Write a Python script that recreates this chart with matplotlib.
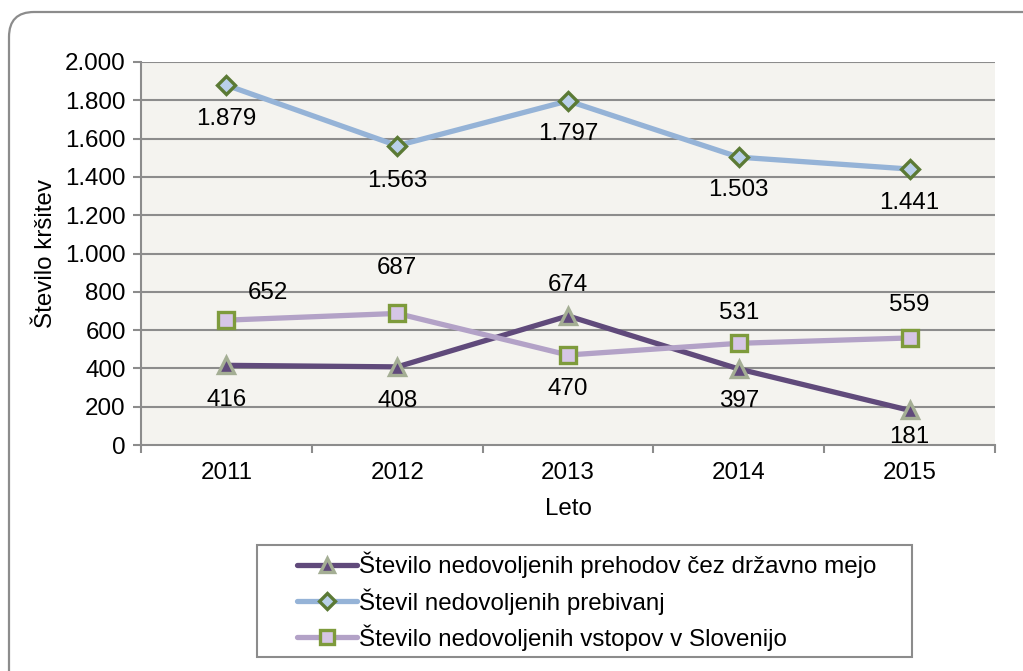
import matplotlib
matplotlib.use("Agg")
import matplotlib.pyplot as plt
from matplotlib.patches import FancyBboxPatch, Rectangle
from matplotlib.lines import Line2D

plt.rcParams['font.family'] = ['Liberation Sans', 'DejaVu Sans']
FS = 17.4

### DATA
years = ["2011", "2012", "2013", "2014", "2015"]
prehodi = [416, 408, 674, 397, 181]
prebivanja = [1879, 1563, 1797, 1503, 1441]
vstopi = [652, 687, 470, 531, 559]

names = ["Število nedovoljenih prehodov čez državno mejo",
         "Števil nedovoljenih prebivanj",
         "Število nedovoljenih vstopov v Slovenijo"]

# label offsets (pixels, x / y up)
off_prehodi = [(0, -35), (0, -34), (0, 31), (0, -32), (0, -27)]
off_prebivanja = [(0, -34), (0, -35), (0, -33), (0, -33), (0, -34)]
off_vstopi = [(42, 27), (0, 45), (0, -34), (0, 30), (0, 33)]

fig = plt.figure(figsize=(10.23, 6.71), dpi=100)
ax = fig.add_axes([141/1023, 1-445/671, (995-141)/1023, (445-62)/671])
ax.set_facecolor("#f4f3ef")

x = list(range(len(years)))

# outer rounded frame
frame = FancyBboxPatch((0.34, 0.0), 10.0, 6.34,
                       boxstyle="round,pad=0.25", transform=fig.dpi_scale_trans,
                       fc="none", ec="#8c8c8c", lw=1.6, clip_on=False)
fig.patches.append(frame)

for v in range(200, 2001, 200):
    ax.axhline(v, color="#8c8c8c", lw=1.5, zorder=1)

series = [
    (prehodi, "#604a7b", "^", "#604a7b", "#a4ae94", off_prehodi, 11.5),
    (prebivanja, "#95b3d7", "D", "#b9d0ea", "#5b7a35", off_prebivanja, 9.5),
    (vstopi, "#b3a2c7", "s", "#d6c6e6", "#7e9b3c", off_vstopi, 11),
]
handles = []
for (vals, col, mk, mfc, mec, offs, ms), nm in zip(series, names):
    ax.plot(x, vals, color=col, lw=3.8, zorder=3, solid_capstyle="round")
    ax.plot(x, vals, ls="none", marker=mk, ms=ms,
            mfc=mfc, mec=mec, mew=2.4, zorder=4)
    for xi, v, (dx, dy) in zip(x, vals, offs):
        lbl = f"{v:,}".replace(",", ".")
        ax.annotate(lbl, (xi, v), xytext=(dx*0.72, dy*0.72), textcoords="offset points",
                    ha="center", va="center", fontsize=FS, zorder=5)
    handles.append(Line2D([], [], color=col, lw=3.8, marker=mk,
                          ms=ms * 0.9, mfc=mfc, mec=mec, mew=2.4,
                          solid_capstyle="round"))

ax.set_xlim(-0.5, 4.5)
ax.set_ylim(0, 2000)
ax.set_yticks(range(0, 2001, 200))
ax.set_yticklabels([f"{v:,}".replace(",", ".") for v in range(0, 2001, 200)], fontsize=FS)
ax.set_xticks(x)
ax.set_xticklabels(years, fontsize=FS)
ax.set_xticks([i - 0.5 for i in range(6)], minor=True)
ax.tick_params(axis="x", which="major", length=0, pad=12)
ax.tick_params(axis="x", which="minor", length=6, width=1.5, color="#8c8c8c")
ax.tick_params(axis="y", length=6, width=1.5, color="#8c8c8c", pad=5)

for s in ["top", "right"]:
    ax.spines[s].set_visible(False)
for s in ["left", "bottom"]:
    ax.spines[s].set_color("#8c8c8c")
    ax.spines[s].set_linewidth(1.5)

ax.set_xlabel("Leto", fontsize=FS, labelpad=10)
ax.set_ylabel("Število kršitev", fontsize=FS, labelpad=6)

# legend box drawn separately (wider side padding than the legend itself allows)
fig.patches.append(Rectangle((257/1023, 1-657/671), (912-257)/1023, 112/671,
                             transform=fig.transFigure, fc="white", ec="#8c8c8c", lw=1.5))
leg = fig.legend(handles, names, loc="upper left",
                 bbox_to_anchor=(297/1023, 1-552/671), fontsize=FS,
                 frameon=False, handlelength=2.5, handletextpad=0.05,
                 labelspacing=0.4, borderpad=0, borderaxespad=0)

fig.savefig("out.png", dpi=100)
